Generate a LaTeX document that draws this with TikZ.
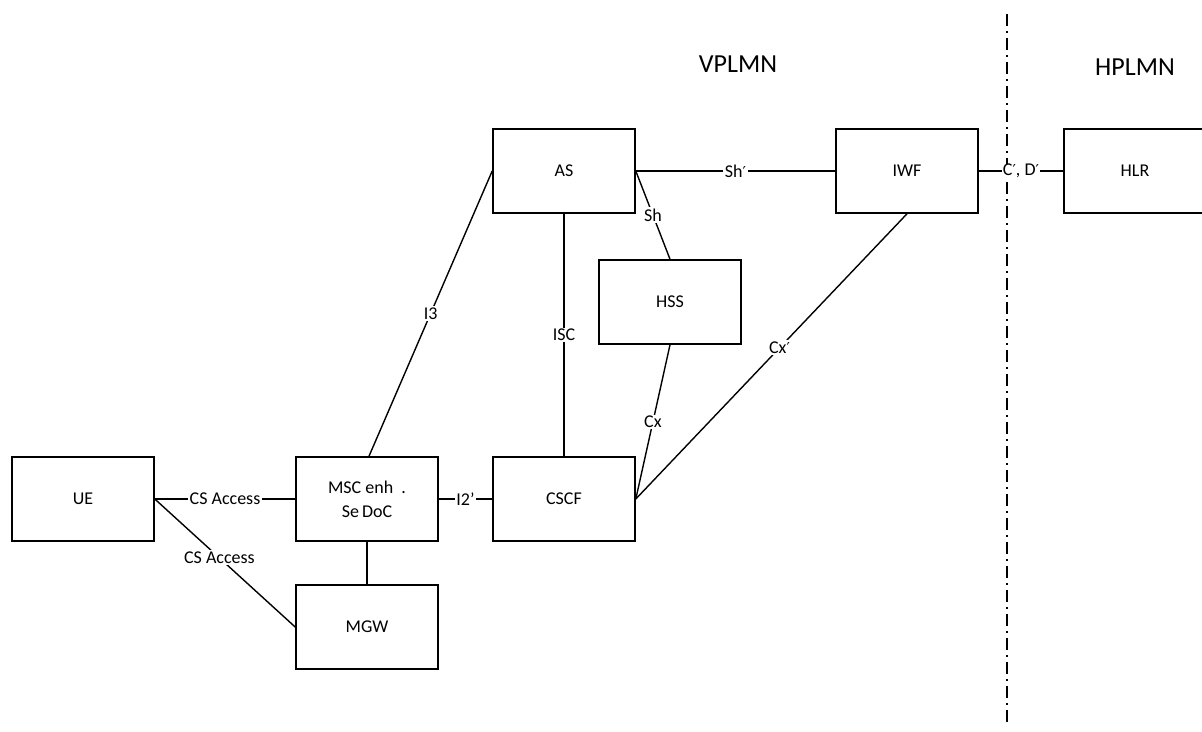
\documentclass[tikz,border=0pt]{standalone}
\usepackage{fontspec}
\setmainfont{Carlito}
\newfontfamily\djv{DejaVu Sans}
\newcommand{\prm}{{\djv\fontsize{15}{17}\selectfont ′}}
\begin{document}
\begin{tikzpicture}[x=1pt,y=-1pt,
  box/.style={draw,line width=1.6pt,minimum width=142pt,minimum height=84pt,inner sep=0pt,font=\fontsize{18}{21}\selectfont},
  conn/.style={line width=1.4pt},
  lab/.style={fill=white,inner sep=1.5pt,font=\fontsize{18}{21}\selectfont},
  big/.style={font=\fontsize{26}{30}\selectfont}]
\useasboundingbox (0,0) rectangle (1202,731);
\node[box] (ue) at (83,499) {UE};
\node[box,align=center] (msc) at (367,499) {MSC enh\ \ .\\[3pt]Se\,DoC};
\node[box] (cscf) at (564,499) {CSCF};
\node[box] (mgw) at (367,627) {MGW};
\node[box] (as) at (564,171) {AS};
\node[box] (hss) at (670,302) {HSS};
\node[box] (iwf) at (907,171) {IWF};
\node[box] (hlr) at (1135,171) {HLR};
\node[big] (vp) at (738,64) {VPLMN};
\node[big] (hp) at (1135,67) {HPLMN};
\coordinate (dtop) at (1007,14);
\coordinate (dbot) at (1007,726);
\draw[line width=2.2pt,dash pattern=on 12pt off 5pt on 2pt off 5pt] (dtop) -- (dbot);
\draw[conn] (ue.east) -- node[lab]{CS Access} (msc.west);
\draw[conn] (ue.east) -- node[lab,pos=0.46]{CS Access} (mgw.west);
\draw[conn] (msc.east) -- node[lab]{I2'} (cscf.west);
\draw[conn] (msc.south) -- (mgw.north);
\draw[conn] ([xshift=2pt]msc.north) -- node[lab]{I3} (as.west);
\draw[conn] (as.south) -- node[lab]{ISC} (cscf.north);
\draw[conn] (as.east) -- node[lab,pos=0.5]{Sh\prm} (iwf.west);
\draw[conn] (as.east) -- node[lab,pos=0.5]{Sh} (hss.north);
\draw[conn] (hss.south) -- node[lab,pos=0.5]{Cx} (cscf.east);
\draw[conn] (iwf.south) -- node[lab,pos=0.47]{Cx\prm} (cscf.east);
\draw[conn] (iwf.east) -- node[lab,inner sep=0.5pt]{C\prm, D\prm} (hlr.west);
\end{tikzpicture}
\end{document}
